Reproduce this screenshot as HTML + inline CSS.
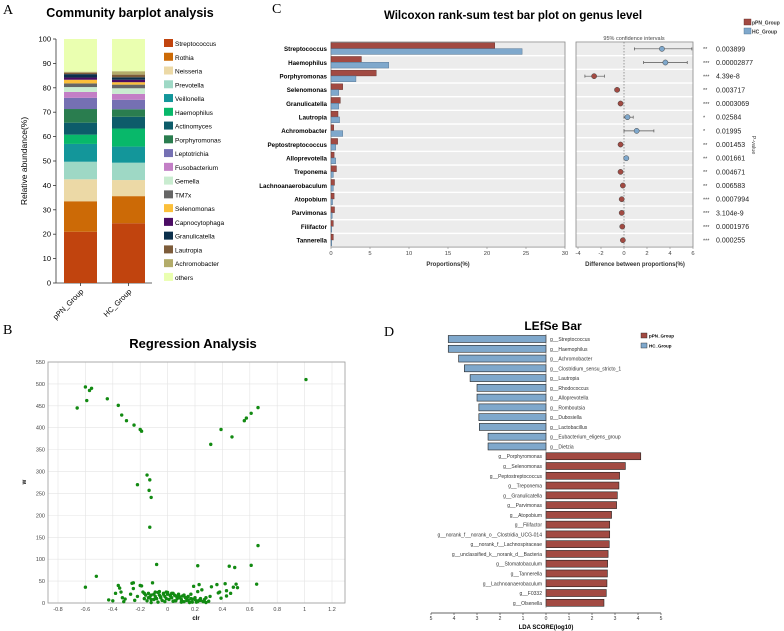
<!DOCTYPE html>
<html><head><meta charset="utf-8"><style>
html,body{margin:0;padding:0;background:#fff;}
svg{display:block;font-family:"Liberation Sans",Arial,sans-serif;}
.lt{font-family:"Liberation Serif",serif;font-size:14px;}
</style></head><body>
<svg id="fig" width="784" height="631" viewBox="0 0 784 631" xmlns="http://www.w3.org/2000/svg">
<text class="lt" x="3" y="14">A</text>
<text class="lt" x="272" y="13">C</text>
<text class="lt" x="3" y="334">B</text>
<text class="lt" x="384" y="336">D</text>
<g id="pa"></g>
<g id="pc"></g>
<g id="pb"></g>
<g id="pd"></g>
</svg>
<script>
// ---- Panel A data ----
const genera = ["Streptococcus","Rothia","Neisseria","Prevotella","Veillonella","Haemophilus","Actinomyces","Porphyromonas","Leptotrichia","Fusobacterium","Gemella","TM7x","Selenomonas","Capnocytophaga","Granulicatella","Lautropia","Achromobacter","others"];
const groupsA = ["pPN_Group","HC_Group"];
const pPNabund = [21,12.5,9,7.2,7.3,3.8,4.9,5.6,4.6,2.4,2.0,1.5,1.5,0.9,1.4,0.6,0.4,13.4];
const HCabund = [24.5,11.1,6.6,7.1,6.6,7.4,4.8,3.1,3.9,2.4,2.3,1.5,1.0,1.0,1.0,1.1,1.4,13.2];
const yTicksA = [0,10,20,30,40,50,60,70,80,90,100];
const colorsA = ["#c1440e","#cc6a06","#ecd9a6","#9ed8c5","#13969a","#08b86a","#0d5c6a","#2a7d4f","#7570b3","#c37fc6","#c9ecd0","#666666","#fbbf3a","#4b0c64","#0b2f4b","#7d5c3a","#b3ac6a","#eaffb0"];

// ---- Panel C data ----
const wGenera = ["Streptococcus","Haemophilus","Porphyromonas","Selenomonas","Granulicatella","Lautropia","Achromobacter","Peptostreptococcus","Alloprevotella","Treponema","Lachnoanaerobaculum","Atopobium","Parvimonas","Filifactor","Tannerella"];
const wPPN = [21,3.9,5.8,1.5,1.2,0.9,0.35,0.85,0.4,0.7,0.45,0.4,0.45,0.3,0.3];
const wHC = [24.5,7.4,3.2,1.0,1.0,1.1,1.5,0.6,0.6,0.3,0.3,0.2,0.15,0.1,0.1];
const wDiff = [3.3,3.6,-2.6,-0.6,-0.3,0.3,1.1,-0.3,0.2,-0.3,-0.1,-0.2,-0.2,-0.15,-0.1];
const wLo = [0.9,1.7,-3.4,-0.8,-0.45,0,0,-0.45,0.1,-0.45,-0.2,-0.3,-0.3,-0.25,-0.2];
const wHi = [5.9,5.5,-1.7,-0.4,-0.15,0.8,2.6,-0.15,0.3,-0.15,0,-0.1,-0.1,-0.05,0];
const wStars = ["**","***","***","**","***","*","*","**","**","**","**","***","***","***","***"];
const wP = ["0.003899","0.00002877","4.39e-8","0.003717","0.0003069","0.02584","0.01995","0.001453","0.001661","0.004671","0.006583","0.0007994","3.104e-9","0.0001976","0.000255"];
const propTicks = [0,5,10,15,20,25,30];
const diffTicks = [-4,-2,0,2,4,6];

// ---- Panel B data ----
const clrX = [-0.66,-0.6,-0.59,-0.57,-0.555,-0.44,-0.36,-0.335,-0.30,-0.245,-0.2,-0.19,-0.22,-0.15,-0.13,-0.135,-0.12,-0.13,-0.08,-0.52,-0.6,1.01,0.66,0.61,0.575,0.56,0.47,0.39,0.315,0.66,0.61,0.22,0.45,0.49,0.65,
 -0.43,-0.4,-0.38,-0.36,-0.35,-0.34,-0.33,-0.32,-0.31,-0.27,-0.26,-0.25,-0.25,-0.24,-0.22,-0.2,-0.19,-0.18,-0.17,-0.16,-0.15,-0.14,-0.13,-0.12,-0.11,-0.1,-0.09,-0.08,-0.07,-0.06,-0.05,-0.04,-0.03,-0.02,-0.01,0,0.01,0.02,0.03,0.04,0.05,0.06,0.07,0.08,0.09,0.1,0.11,0.12,0.13,0.14,0.15,0.16,0.17,0.18,0.19,0.2,0.21,0.22,0.23,0.24,0.25,0.26,0.27,0.28,0.3,0.31,0.32,0.36,0.37,0.38,0.39,0.42,0.43,0.43,0.46,0.48,0.5,0.51,
 -0.17,-0.12,-0.09,-0.06,-0.03,0.0,0.03,0.05,0.08,0.11,0.14,0.17,0.2,0.23,0.26,-0.14,-0.1,-0.05,-0.01,0.02,0.06,0.09,0.12,0.15,0.18,0.21,0.24,-0.12,-0.07,-0.02,0.04,0.1,0.16,0.22,0.28];
const wY = [445,493,462,485,490,466,451,429,416,406,396,392,270,292,281,257,241,173,88,61,36,510,446,433,422,416,379,396,362,131,86,85,84,81,43,
 7,5,22,40,34,25,12,3,9,20,45,46,33,6,15,40,39,25,10,18,5,22,14,8,46,20,15,10,24,18,12,6,22,15,25,20,8,18,12,22,5,16,10,20,14,8,3,18,12,6,15,2,20,9,38,12,5,26,42,10,30,3,8,12,4,15,37,42,23,25,11,44,28,16,22,36,43,35,
 22,18,25,26,20,24,22,18,14,16,12,10,8,6,4,12,8,14,10,16,5,12,3,7,2,2,6,1,2,3,4,2,1,3,1];
const bxTicks = [-0.8,-0.6,-0.4,-0.2,0,0.2,0.4,0.6,0.8,1,1.2];
const byTicks = [0,50,100,150,200,250,300,350,400,450,500,550];

// ---- Panel D data ----
const ldaNames = ["g__Streptococcus","g__Haemophilus","g__Achromobacter","g__Clostridium_sensu_stricto_1","g__Lautropia","g__Rhodococcus","g__Alloprevotella","g__Romboutsia","g__Dubosiella","g__Lactobacillus","g__Eubacterium_eligens_group","g__Dietzia","g__Porphyromonas","g__Selenomonas","g__Peptostreptococcus","g__Treponema","g__Granulicatella","g__Parvimonas","g__Atopobium","g__Filifactor","g__norank_f__norank_o__Clostridia_UCG-014","g__norank_f__Lachnospiraceae","g__unclassified_k__norank_d__Bacteria","g__Stomatobaculum","g__Tannerella","g__Lachnoanaerobaculum","g__F0332","g__Olsenella"];
const ldaScore = [-4.25,-4.25,-3.8,-3.55,-3.3,-3.0,-3.0,-2.92,-2.92,-2.9,-2.52,-2.52,4.12,3.45,3.2,3.17,3.1,3.07,2.85,2.77,2.77,2.75,2.7,2.68,2.67,2.65,2.62,2.52];
const ldaTicks = [-5,-4,-3,-2,-1,0,1,2,3,4,5];
const ldaTickLabels = ["5","4","3","2","1","0","1","2","3","4","5"];

const NS="http://www.w3.org/2000/svg";
function mk(parent,tag,attrs,text){const e=document.createElementNS(NS,tag);for(const k in attrs)e.setAttribute(k,attrs[k]);if(text!==undefined)e.textContent=text;parent.appendChild(e);return e;}

// ===== Panel A =====
(function(){
 const g=document.getElementById('pa');
 const y=v=>283-v*2.44;
 let t=mk(g,'text',{x:130,y:17,'text-anchor':'middle','font-size':'12.5','font-weight':'bold'},'Community barplot analysis');
 
 mk(g,'line',{x1:56,y1:39,x2:56,y2:283,stroke:'#333','stroke-width':0.8});
 mk(g,'line',{x1:56,y1:283,x2:152,y2:283,stroke:'#333','stroke-width':0.8});
 yTicksA.forEach(v=>{mk(g,'line',{x1:53,y1:y(v),x2:56,y2:y(v),stroke:'#333','stroke-width':0.8});
  t=mk(g,'text',{x:51,y:y(v)+2.5,'text-anchor':'end','font-size':'7.5'},String(v));});
 t=mk(g,'text',{x:0,y:0,transform:'translate(27,161) rotate(-90)','text-anchor':'middle','font-size':'8.5'},'Relative abundance(%)');
 
 const xs=[64,112];
 [pPNabund,HCabund].forEach((arr,gi)=>{let c=0;arr.forEach((v,i)=>{
  const r=mk(g,'rect',{x:xs[gi],y:y(c+v),width:33,height:v*2.44,fill:colorsA[i]});
  c+=v;});
  mk(g,'line',{x1:xs[gi]+16.5,y1:283,x2:xs[gi]+16.5,y2:286,stroke:'#333','stroke-width':0.8});
  t=mk(g,'text',{x:0,y:0,transform:`translate(${xs[gi]+20},292) rotate(-45)`,'text-anchor':'end','font-size':'7.5'},groupsA[gi]);
  });
 genera.forEach((n,i)=>{const yy=39+i*13.76;
  const r=mk(g,'rect',{x:164,y:yy,width:9,height:8,fill:colorsA[i]});
  t=mk(g,'text',{x:175,y:yy+7,'font-size':'6.5'},n);});
})();

// ===== Panel C =====
(function(){
 const g=document.getElementById('pc');
 const top=42,rh=13.67,L=331,R=565,DL=576,DR=693;
 const xp=v=>L+v*(R-L)/30;
 const xd=v=>578+(v+4)*(693-578)/10;
 let t=mk(g,'text',{x:513,y:19,'text-anchor':'middle','font-size':'11.5','font-weight':'bold'},'Wilcoxon rank-sum test bar plot on genus level');
 
 wGenera.forEach((n,i)=>{const y0=top+i*rh;
  mk(g,'rect',{x:L,y:y0+0.7,width:R-L,height:rh-1.4,fill:'#ececec'});
  mk(g,'rect',{x:DL,y:y0+0.7,width:DR-DL,height:rh-1.4,fill:'#ececec'});
 });
 mk(g,'rect',{x:L,y:top,width:R-L,height:15*rh,fill:'none',stroke:'#888','stroke-width':0.8});
 mk(g,'rect',{x:DL,y:top,width:DR-DL,height:15*rh,fill:'none',stroke:'#888','stroke-width':0.8});
 mk(g,'line',{x1:xd(0),y1:top,x2:xd(0),y2:top+15*rh,stroke:'#777','stroke-width':0.7,'stroke-dasharray':'1.5,1.5'});
 wGenera.forEach((n,i)=>{const y0=top+i*rh,cy=y0+rh/2;
  t=mk(g,'text',{x:327,y:cy+2.3,'text-anchor':'end','font-size':'6.2','font-weight':'bold'},n);
  let r=mk(g,'rect',{x:L,y:y0+0.8,width:xp(wPPN[i])-L,height:5.8,fill:'#a24a42',stroke:'#5a2a26','stroke-width':0.4});
  r=mk(g,'rect',{x:L,y:y0+6.6,width:xp(wHC[i])-L,height:5.8,fill:'#7fa8cc',stroke:'#4a6a88','stroke-width':0.4});
  mk(g,'line',{x1:xd(wLo[i]),y1:cy,x2:xd(wHi[i]),y2:cy,stroke:'#555','stroke-width':0.7});
  mk(g,'line',{x1:xd(wLo[i]),y1:cy-1.5,x2:xd(wLo[i]),y2:cy+1.5,stroke:'#555','stroke-width':0.7});
  mk(g,'line',{x1:xd(wHi[i]),y1:cy-1.5,x2:xd(wHi[i]),y2:cy+1.5,stroke:'#555','stroke-width':0.7});
  const c=mk(g,'circle',{cx:xd(wDiff[i]),cy:cy,r:2.6,fill:wDiff[i]>0?'#7fa8cc':'#a24a42',stroke:'#444','stroke-width':0.5});
  t=mk(g,'text',{x:703,y:cy+2.3,'font-size':'5.5','fill':'#444'},wStars[i]);
  t=mk(g,'text',{x:716,y:cy+2.5,'font-size':'7','fill':'#222'},wP[i]);
 });
 propTicks.forEach(v=>{mk(g,'line',{x1:xp(v),y1:247,x2:xp(v),y2:249,stroke:'#888','stroke-width':0.6});
  t=mk(g,'text',{x:xp(v),y:255,'text-anchor':'middle','font-size':'5.8','fill':'#444'},String(v));});
 diffTicks.forEach(v=>{mk(g,'line',{x1:xd(v),y1:247,x2:xd(v),y2:249,stroke:'#888','stroke-width':0.6});
  t=mk(g,'text',{x:xd(v),y:255,'text-anchor':'middle','font-size':'5.8','fill':'#444'},String(v));});
 t=mk(g,'text',{x:448,y:266,'text-anchor':'middle','font-size':'6','font-weight':'bold','fill':'#333'},'Proportions(%)');
 t=mk(g,'text',{x:635,y:266,'text-anchor':'middle','font-size':'6','font-weight':'bold','fill':'#333'},'Difference between proportions(%)');
 t=mk(g,'text',{x:634,y:40,'text-anchor':'middle','font-size':'5.5','fill':'#444'},'95% confidence intervals');
 t=mk(g,'text',{x:0,y:0,transform:'translate(752,145) rotate(90)','text-anchor':'middle','font-size':'5.5','fill':'#444'},'P-value');
 let r=mk(g,'rect',{x:744,y:19,width:7,height:6,fill:'#a24a42',stroke:'#5a2a26','stroke-width':0.4});
 r=mk(g,'rect',{x:744,y:28,width:7,height:6,fill:'#7fa8cc',stroke:'#4a6a88','stroke-width':0.4});
 t=mk(g,'text',{x:752,y:24.5,'font-size':'5','font-weight':'bold','fill':'#333'},'pPN_Group');
 t=mk(g,'text',{x:752,y:33.5,'font-size':'5','font-weight':'bold','fill':'#333'},'HC_Group');
})();

// ===== Panel B =====
(function(){
 const g=document.getElementById('pb');
 const L=48,R=345,T=362,B=603;
 const x=v=>58+(v+0.8)*137;
 const y=v=>B-v*(B-T)/550;
 let t=mk(g,'text',{x:193,y:348,'text-anchor':'middle','font-size':'13','font-weight':'bold'},'Regression Analysis');
 bxTicks.forEach(v=>{mk(g,'line',{x1:x(v),y1:T,x2:x(v),y2:B,stroke:'#e4e4e4','stroke-width':0.6});
  t=mk(g,'text',{x:x(v),y:611,'text-anchor':'middle','font-size':'5.5','fill':'#444'},String(v));});
 byTicks.forEach(v=>{mk(g,'line',{x1:L,y1:y(v),x2:R,y2:y(v),stroke:'#e4e4e4','stroke-width':0.6});
  t=mk(g,'text',{x:45,y:y(v)+2,'text-anchor':'end','font-size':'5.5','fill':'#444'},String(v));});
 mk(g,'rect',{x:L,y:T,width:R-L,height:B-T,fill:'none',stroke:'#999','stroke-width':0.8});
 clrX.forEach((v,i)=>{const c=mk(g,'circle',{cx:x(v),cy:y(wY[i]),r:1.7,fill:'#128a12'});
  
  });
 t=mk(g,'text',{x:196,y:620,'text-anchor':'middle','font-size':'6','font-weight':'bold'},'clr');
 t=mk(g,'text',{x:0,y:0,transform:'translate(26,482) rotate(-90)','text-anchor':'middle','font-size':'6','font-weight':'bold'},'w');
})();

// ===== Panel D =====
(function(){
 const g=document.getElementById('pd');
 const x=v=>546+v*23;
 let t=mk(g,'text',{x:553,y:330,'text-anchor':'middle','font-size':'12','font-weight':'bold'},'LEfSe Bar');
 ldaNames.forEach((n,i)=>{const cy=339+i*9.77,v=ldaScore[i];
  const r=mk(g,'rect',{x:Math.min(x(0),x(v)),y:cy-3.5,width:Math.abs(x(v)-x(0)),height:7,fill:v<0?'#7fa8cc':'#a24a42',stroke:'#222','stroke-width':0.6});
  
  t=mk(g,'text',{x:v<0?550:542,y:cy+2,'text-anchor':v<0?'start':'end','font-size':'5','fill':'#333'},n);
 });
 mk(g,'line',{x1:x(0),y1:334,x2:x(0),y2:608,stroke:'#555','stroke-width':0.4});
 mk(g,'line',{x1:x(-5),y1:613,x2:x(5),y2:613,stroke:'#333','stroke-width':0.7});
 ldaTicks.forEach((v,i)=>{mk(g,'line',{x1:x(v),y1:613,x2:x(v),y2:615,stroke:'#333','stroke-width':0.6});
  t=mk(g,'text',{x:x(v),y:620,'text-anchor':'middle','font-size':'5','fill':'#333'},ldaTickLabels[i]);});
 t=mk(g,'text',{x:546,y:629,'text-anchor':'middle','font-size':'6','font-weight':'bold'},'LDA SCORE(log10)');
 let r=mk(g,'rect',{x:641,y:333,width:6,height:5,fill:'#a24a42',stroke:'#222','stroke-width':0.4});
 r=mk(g,'rect',{x:641,y:343,width:6,height:5,fill:'#7fa8cc',stroke:'#222','stroke-width':0.4});
 t=mk(g,'text',{x:649,y:337.5,'font-size':'4.5','font-weight':'bold'},'pPN_Group');
 t=mk(g,'text',{x:649,y:347.5,'font-size':'4.5','font-weight':'bold'},'HC_Group');
})();
</script>
</body></html>
